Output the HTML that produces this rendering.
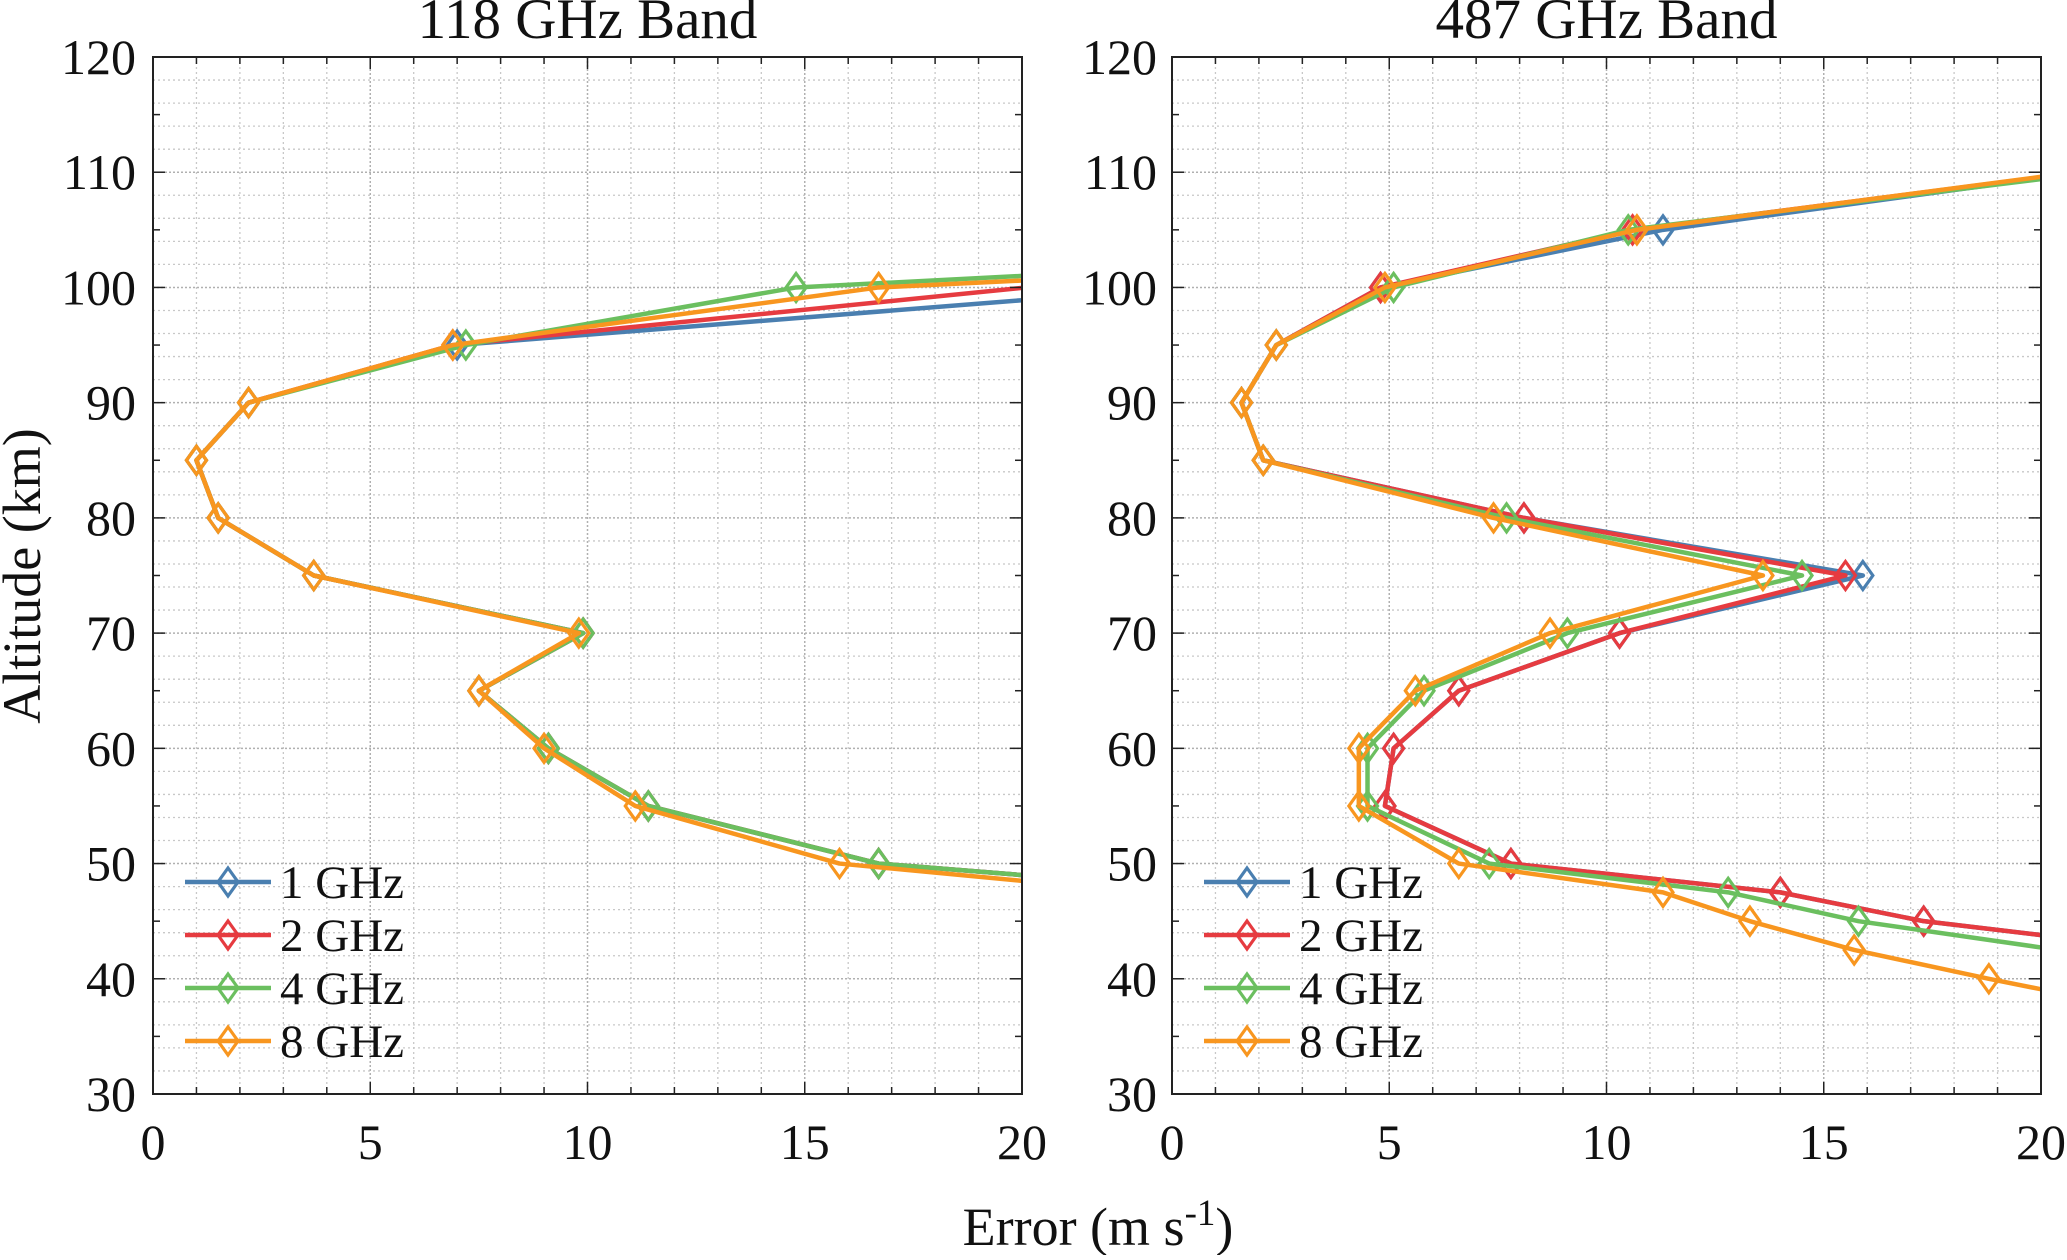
<!DOCTYPE html>
<html><head><meta charset="utf-8">
<style>
html,body{margin:0;padding:0;background:#fff;}
svg, svg text{font-family:"Liberation Serif","Times New Roman",serif;}
</style></head>
<body>
<svg id="chart" width="2067" height="1255" viewBox="0 0 2067 1255" xmlns="http://www.w3.org/2000/svg" font-family="Liberation Serif, serif">
<g id="root"></g>
</svg>
<script>
// Data
const xTicks = [0,5,10,15,20];
const yTicks = [30,40,50,60,70,80,90,100,110,120];
const seriesNames = ["1 GHz","2 GHz","4 GHz","8 GHz"];
const seriesColors = ["#4a7fb0","#e63b40","#6bbf5f","#f8961f"];
const titles = ["118 GHz Band","487 GHz Band"];

// 118 GHz band
const alt118 = [45,50,55,60,65,70,75,80,85,90,95,100,105];
const err118_1 = [33.2,16.7,11.4,9.1,7.5,9.9,3.7,1.5,1.0,2.2,7.0,23.7,40];
const err118_2 = [33.2,16.7,11.4,9.1,7.5,9.9,3.7,1.5,1.0,2.2,6.9,20.1,40];
const err118_4 = [33.2,16.7,11.4,9.1,7.5,9.9,3.7,1.5,1.0,2.2,7.2,14.8,40.8];
const err118_8 = [29.8,15.8,11.1,9.0,7.5,9.8,3.7,1.5,1.0,2.2,6.9,16.7,44.2];

// 487 GHz band
const alt487 = [37.5,40,42.5,45,47.5,50,55,60,65,70,75,80,85,90,95,100,105,110];
const err487_1 = [34,28.5,22.9,17.3,14.0,7.8,4.9,5.1,6.6,10.3,15.9,8.1,2.1,1.6,2.4,4.8,11.3,21.0];
const err487_2 = [34,28.5,22.9,17.3,14.0,7.8,4.9,5.1,6.6,10.3,15.5,8.1,2.1,1.6,2.4,4.8,10.6,20.9];
const err487_4 = [30,26,20.4,15.8,12.8,7.3,4.5,4.5,5.8,9.1,14.5,7.7,2.1,1.6,2.4,5.1,10.5,21.3];
const err487_8 = [22.1,18.8,15.7,13.3,11.3,6.6,4.3,4.3,5.6,8.7,13.6,7.4,2.1,1.6,2.4,4.9,10.7,20.8];

const NS="http://www.w3.org/2000/svg";
const root=document.getElementById('root');
const FF='Liberation Serif, serif';
function mk(tag,attrs,parent){const e=document.createElementNS(NS,tag);for(const k in attrs)e.setAttribute(k,attrs[k]);if(tag==='text')e.setAttribute('font-family',FF);(parent||root).appendChild(e);return e;}

const panels=[
 {L:153,R:1022,T:57,B:1094,alt:alt118,errs:[err118_1,err118_2,err118_4,err118_8],legX:185,tickX:136,name:"118"},
 {L:1172,R:2041,T:57,B:1094,alt:alt487,errs:[err487_1,err487_2,err487_4,err487_8],legX:1204,tickX:1157,name:"487"}
];

panels.forEach((p,pi)=>{
  const xs=v=>p.L+(v-0)/(20-0)*(p.R-p.L);
  const ys=v=>p.B-(v-30)/(120-30)*(p.B-p.T);
  const g=mk('g',{});
  
  
  const cp=mk('clipPath',{id:'clip'+pi},g);
  mk('rect',{x:p.L,y:p.T,width:p.R-p.L,height:p.B-p.T},cp);
  for(let v=1;v<20;v++){if(v%5===0)continue;
    const l=mk('line',{x1:xs(v),x2:xs(v),y1:p.T,y2:p.B,stroke:'#c8c8c8','stroke-width':1.3,'stroke-dasharray':'2,3'},g);
    }
  for(let v=32;v<120;v+=2){if(v%10===0)continue;
    const l=mk('line',{x1:p.L,x2:p.R,y1:ys(v),y2:ys(v),stroke:'#c8c8c8','stroke-width':1.3,'stroke-dasharray':'2,3'},g);
    }
  xTicks.forEach(v=>{ if(v>0&&v<20){
    const l=mk('line',{x1:xs(v),x2:xs(v),y1:p.T,y2:p.B,stroke:'#b0b0b0','stroke-width':1.5,'stroke-dasharray':'2,2'},g);
    }});
  yTicks.forEach(v=>{ if(v>30&&v<120){
    const l=mk('line',{x1:p.L,x2:p.R,y1:ys(v),y2:ys(v),stroke:'#b0b0b0','stroke-width':1.5,'stroke-dasharray':'2,2'},g);
    }});
  p.errs.forEach((arr,si)=>{
    const sg=mk('g',{'clip-path':'url(#clip'+pi+')'},g);
    
    
    const pts=arr.map((v,i)=>xs(v)+','+ys(p.alt[i])).join(' ');
    const pl=mk('polyline',{points:pts,fill:'none',stroke:seriesColors[si],'stroke-width':4.5,'stroke-linejoin':'round'},sg);
    
    arr.forEach((v,i)=>{ if(v<=20&&v>=0){
      const cx=xs(v),cy=ys(p.alt[i]);
      const d=mk('polygon',{points:`${cx},${cy-14} ${cx+10},${cy} ${cx},${cy+14} ${cx-10},${cy}`,fill:'none',stroke:seriesColors[si],'stroke-width':3.2},sg);
      }});
  });
  const box=mk('rect',{x:p.L,y:p.T,width:p.R-p.L,height:p.B-p.T,fill:'none',stroke:'#222','stroke-width':2},g);
  
  for(let v=0;v<=20;v++){const len=(v%5===0)?12:7;
    mk('line',{x1:xs(v),x2:xs(v),y1:p.B,y2:p.B-len,stroke:'#222','stroke-width':1.5},g);
    mk('line',{x1:xs(v),x2:xs(v),y1:p.T,y2:p.T+len,stroke:'#222','stroke-width':1.5},g);}
  for(let v=30;v<=120;v+=5){const len=(v%10===0)?12:7;
    mk('line',{x1:p.L,x2:p.L+len,y1:ys(v),y2:ys(v),stroke:'#222','stroke-width':1.5},g);
    mk('line',{x1:p.R,x2:p.R-len,y1:ys(v),y2:ys(v),stroke:'#222','stroke-width':1.5},g);}
  xTicks.forEach(v=>{const t=mk('text',{x:xs(v),y:1159,'text-anchor':'middle','font-size':50,fill:'#111'},g);t.textContent=v;
    });
  yTicks.forEach(v=>{const t=mk('text',{x:p.tickX,y:ys(v)+17,'text-anchor':'end','font-size':50,fill:'#111'},g);t.textContent=v;
    });
  const tt=mk('text',{x:(p.L+p.R)/2,y:38,'text-anchor':'middle','font-size':57,fill:'#111'},g);tt.textContent=titles[pi];
  
  const lg=mk('g',{},g);
  
  seriesNames.forEach((n,si)=>{const y=882+si*53;
    const e=mk('g',{},lg);
    
    mk('line',{x1:p.legX,x2:p.legX+86,y1:y,y2:y,stroke:seriesColors[si],'stroke-width':4.5},e);
    const cx=p.legX+43;
    mk('polygon',{points:`${cx},${y-14} ${cx+10},${y} ${cx},${y+14} ${cx-10},${y}`,fill:'none',stroke:seriesColors[si],'stroke-width':3.2},e);
    const t=mk('text',{x:p.legX+95,y:y+16,'font-size':47,fill:'#111'},e);t.textContent=n;});
});
const yl=mk('text',{x:0,y:0,transform:'translate(40,576) rotate(-90)','text-anchor':'middle','font-size':54,fill:'#111'});
yl.textContent='Altitude (km)';

const xl=mk('text',{x:1098,y:1245,'text-anchor':'middle','font-size':54,fill:'#111'});
xl.innerHTML='Error (m s<tspan dy="-20" font-size="37">-1</tspan><tspan dy="20">)</tspan>';

</script>
</body></html>
